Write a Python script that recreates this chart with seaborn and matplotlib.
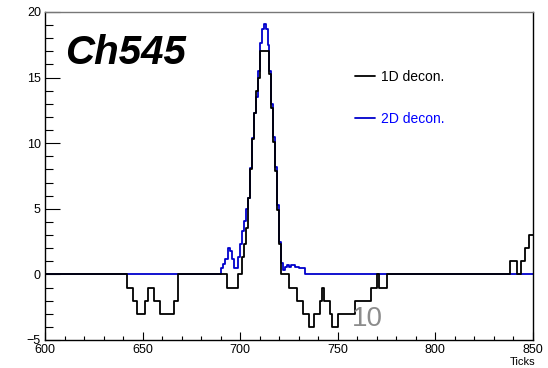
import numpy as np
import pandas as pd
import matplotlib
matplotlib.use("Agg")
import matplotlib.pyplot as plt
import seaborn as sns
from matplotlib.ticker import MultipleLocator
from matplotlib.lines import Line2D

# Run-length encoded histogram contents (bin start tick -> level), 1-tick bins
d1_edges = [600, 642, 645, 647, 651, 653, 656, 659, 666, 668, 693, 699, 701, 702, 703,
            704, 705, 706, 707, 708, 709, 710, 715, 716, 717, 718, 719, 720, 721, 725,
            729, 732, 735, 738, 741, 742, 743, 746, 747, 750, 759, 767, 770, 771, 775,
            838, 842, 844, 846, 848]
d1_levels = [0, -1, -2, -3, -2, -1, -2, -3, -2, 0, -1, 0, 1.3, 2.3, 3.5,
             5.8, 8.0, 10.3, 12.3, 14.0, 15.0, 17.0, 15.3, 12.7, 10.1, 7.9, 4.9, 2.3, 0, -1,
             -2, -3, -4, -3, -2, -1, -2, -3, -4, -3, -2, -1, 0, -1, 0,
             1, 0, 1, 2, 3]

d2_edges = [600, 690, 691, 692, 694, 695, 696, 697, 699, 700, 701, 702, 703, 704, 705,
            706, 707, 708, 709, 710, 711, 712, 713, 714, 715, 716, 717, 718, 719, 720,
            721, 722, 723, 724, 725, 726, 728, 730, 733]
d2_levels = [0, 0.5, 0.8, 1.2, 2.0, 1.8, 1.2, 0.5, 1.3, 2.3, 3.3, 4.1, 5.0, 5.8, 8.1,
             10.4, 12.3, 13.5, 15.5, 17.6, 18.7, 19.1, 18.7, 17.5, 15.5, 13.0, 10.5, 8.2, 5.3, 2.5,
             0.9, 0.3, 0.6, 0.7, 0.6, 0.7, 0.6, 0.5, 0]

x_end = 850
xticks = [600, 650, 700, 750, 800, 850]
yticks = [-5, 0, 5, 10, 15, 20]


def step_frame(edges, levels, name):
    xs = list(edges) + [x_end]
    ys = list(levels) + [levels[-1]]
    return pd.DataFrame({"tick": xs, "val": ys, "series": name})


sns.set_style("white")
plt.rcParams["font.family"] = ["Liberation Sans", "DejaVu Sans"]
plt.rcParams["text.color"] = "black"
plt.rcParams["xtick.color"] = "black"
plt.rcParams["ytick.color"] = "black"
plt.rcParams["axes.edgecolor"] = "black"

fig = plt.figure(figsize=(5.48, 3.68), dpi=100)
ax = fig.add_axes([45 / 548, 1 - 340 / 368, 488 / 548, 328 / 368])

df2 = step_frame(d2_edges, d2_levels, "2D decon.")
df1 = step_frame(d1_edges, d1_levels, "1D decon.")

sns.lineplot(data=df2, x="tick", y="val", ax=ax, color="#0000cc", lw=1.3,
             drawstyle="steps-post", estimator=None, sort=False, legend=False)
sns.lineplot(data=df1, x="tick", y="val", ax=ax, color="black", lw=1.3,
             drawstyle="steps-post", estimator=None, sort=False, legend=False)

ax.set_xlim(600, 850)
ax.set_ylim(-5, 20)
ax.set_xticks(xticks)
ax.set_yticks(yticks)
ax.set_yticklabels(["\u22125" if t == -5 else str(t) for t in yticks])
ax.xaxis.set_minor_locator(MultipleLocator(10))
ax.yaxis.set_minor_locator(MultipleLocator(1))
ax.tick_params(axis="y", which="major", direction="in", length=11, width=0.8,
               labelsize=9, pad=3, left=True, colors="black")
ax.tick_params(axis="y", which="minor", direction="in", length=5.5, width=0.8, left=True)
ax.tick_params(axis="x", which="major", direction="in", length=6, width=0.8,
               labelsize=9, pad=3, bottom=True, colors="black")
ax.tick_params(axis="x", which="minor", direction="in", length=3, width=0.8, bottom=True)
ax.set_xlabel("")
ax.set_ylabel("")
for s in ax.spines.values():
    s.set_color("black")
    s.set_linewidth(1.0)
ax.spines["top"].set_color("#777777")

fig.text(535 / 548, 1 / 368, "Ticks", ha="right", va="bottom", fontsize=8,
         color="black")

ax.text(0.042, 0.875, "Ch545", transform=ax.transAxes, fontsize=29, color="black",
        fontweight="bold", fontstyle="italic", ha="left", va="center")

ax.text(757, -3.9, "10", color="#8c8c8c", fontsize=20, ha="left", va="baseline")

handles = [Line2D([], [], color="black", lw=1.3), Line2D([], [], color="#0000cc", lw=1.3)]
leg = ax.legend(handles, ["1D decon.", "2D decon."], loc="upper left",
                bbox_to_anchor=(0.621, 0.845), frameon=False, fontsize=10,
                labelspacing=2.0, handlelength=1.45, handletextpad=0.45, borderpad=0)
for txt, c in zip(leg.get_texts(), ["black", "blue"]):
    txt.set_color(c)

fig.savefig("out.png", dpi=100)
